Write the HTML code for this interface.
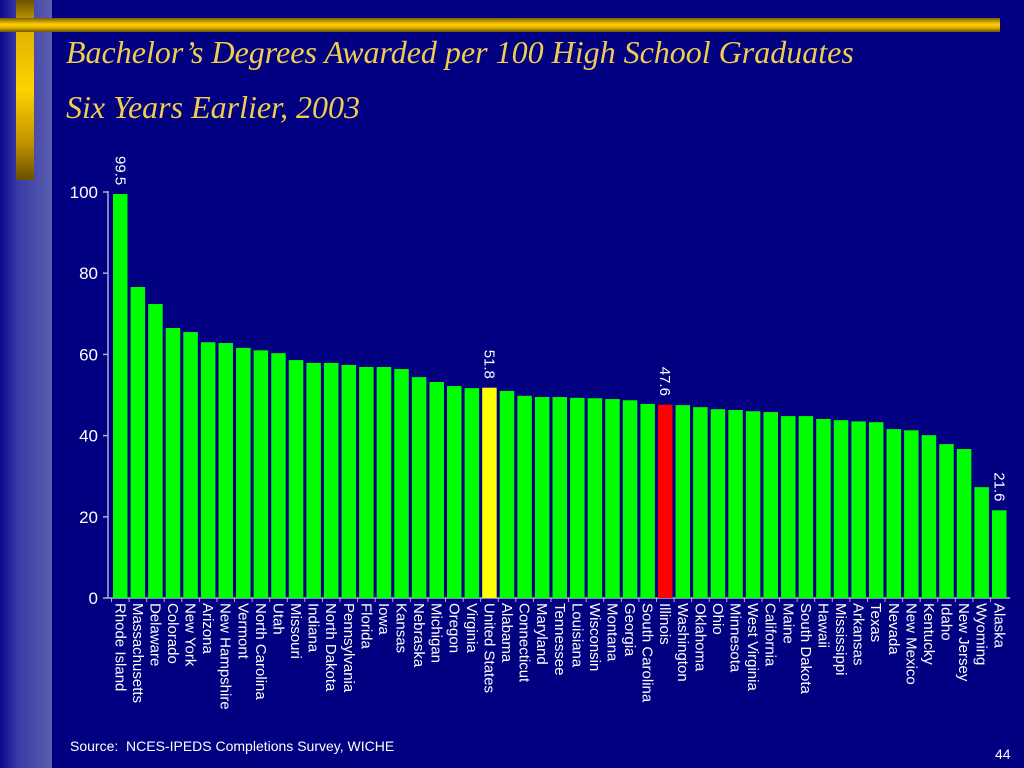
<!DOCTYPE html>
<html><head><meta charset="utf-8"><style>
html,body{margin:0;padding:0}
body{width:1024px;height:768px;overflow:hidden;background:#000080;position:relative;font-family:"Liberation Sans",sans-serif}
#stripe{position:absolute;left:0;top:0;width:52px;height:768px;background:linear-gradient(90deg,#0a0a8a 0%,#3a3aa8 35%,#5a5fae 100%)}
#vbar{position:absolute;left:16px;top:0;width:18px;height:180px;background:linear-gradient(180deg,#6a5200 0%,#e0b000 15%,#ffd200 50%,#c09000 80%,#6a5000 100%)}
#hbar{position:absolute;left:0;top:18px;width:1000px;height:14px;background:linear-gradient(180deg,#7a5c00 0%,#ffd000 45%,#e0b000 70%,#6a5000 100%)}
.title{position:absolute;left:66px;color:#f0cc50;font-family:"Liberation Serif",serif;font-style:italic;font-size:32px;white-space:nowrap}
#src{position:absolute;left:70px;top:738px;color:#fff;font-size:14px}
#pg{position:absolute;left:995px;top:746px;color:#fff;font-size:14px}
svg{position:absolute;left:0;top:0}
</style></head><body>
<div id="stripe"></div>
<div id="vbar"></div>
<div id="hbar"></div>
<div class="title" style="top:34px">Bachelor’s Degrees Awarded per 100 High School Graduates</div>
<div class="title" style="top:89px">Six Years Earlier, 2003</div>
<svg id="chart" width="1024" height="768"></svg>
<div id="src">Source:&nbsp; NCES-IPEDS Completions Survey, WICHE</div>
<div id="pg">44</div>
<script>
const states=["Rhode Island","Massachusetts","Delaware","Colorado","New York","Arizona","New Hampshire","Vermont","North Carolina","Utah","Missouri","Indiana","North Dakota","Pennsylvania","Florida","Iowa","Kansas","Nebraska","Michigan","Oregon","Virginia","United States","Alabama","Connecticut","Maryland","Tennessee","Louisiana","Wisconsin","Montana","Georgia","South Carolina","Illinois","Washington","Oklahoma","Ohio","Minnesota","West Virginia","California","Maine","South Dakota","Hawaii","Mississippi","Arkansas","Texas","Nevada","New Mexico","Kentucky","Idaho","New Jersey","Wyoming","Alaska"];
const values=[99.5,76.6,72.4,66.5,65.5,63.0,62.8,61.6,61.0,60.3,58.6,57.9,57.9,57.4,56.9,56.9,56.4,54.4,53.2,52.2,51.7,51.8,51.0,49.8,49.5,49.5,49.3,49.2,49.0,48.7,47.8,47.6,47.5,47.0,46.5,46.3,46.0,45.8,44.8,44.8,44.1,43.8,43.5,43.3,41.6,41.3,40.1,37.9,36.7,27.3,21.6];
const yTicks=[0,20,40,60,80,100];
const labeled={"Rhode Island":"99.5","United States":"51.8","Illinois":"47.6","Alaska":"21.6"};
const colorOf={"United States":"#ffff00","Illinois":"#ff0000"};
const NS="http://www.w3.org/2000/svg",svg=document.getElementById('chart');
const y0=598,pxPerUnit=4.06,x0=111.5,step=17.58,bw=14.5;
const yS=v=>y0-v*pxPerUnit, xS=i=>x0+i*step;
function mk(t,a){const e=document.createElementNS(NS,t);for(const k in a)e.setAttribute(k,a[k]);svg.appendChild(e);return e;}
const ax=mk('line',{x1:108,y1:yS(100)-1,x2:108,y2:y0,stroke:'#aab0d8','stroke-width':1.5});

const bx=mk('line',{x1:108,y1:y0,x2:xS(states.length)+2,y2:y0,stroke:'#aab0d8','stroke-width':1.5});

yTicks.forEach(t=>{
 const l=mk('line',{x1:103,y1:yS(t),x2:108,y2:yS(t),stroke:'#aab0d8','stroke-width':1.5});
 
 const tx=mk('text',{x:98,y:yS(t)+6,'text-anchor':'end',fill:'#fff','font-size':17,'font-family':'Liberation Sans, sans-serif'});
 tx.textContent=t;
});
states.forEach((s,i)=>{
 const x=xS(i)+1.5,v=values[i];
 const r=mk('rect',{x:x,y:yS(v),width:bw,height:v*pxPerUnit,fill:colorOf[s]||'#00ff00'});
 
 const tk=mk('line',{x1:xS(i),y1:y0,x2:xS(i),y2:y0+4,stroke:'#aab0d8','stroke-width':1});
 
 const cx=x+bw/2;
 const lb=mk('text',{x:0,y:0,transform:`translate(${cx-5},603) rotate(90)`,fill:'#fff','font-size':15,'font-family':'Liberation Sans, sans-serif'});
 lb.textContent=s;
 if(labeled[s]){
  const vl=mk('text',{x:0,y:0,transform:`translate(${cx-5},${yS(v)-38}) rotate(90)`,fill:'#fff','font-size':15,'font-family':'Liberation Sans, sans-serif'});
  vl.textContent=labeled[s];
 }
});
</script>
</body></html>
